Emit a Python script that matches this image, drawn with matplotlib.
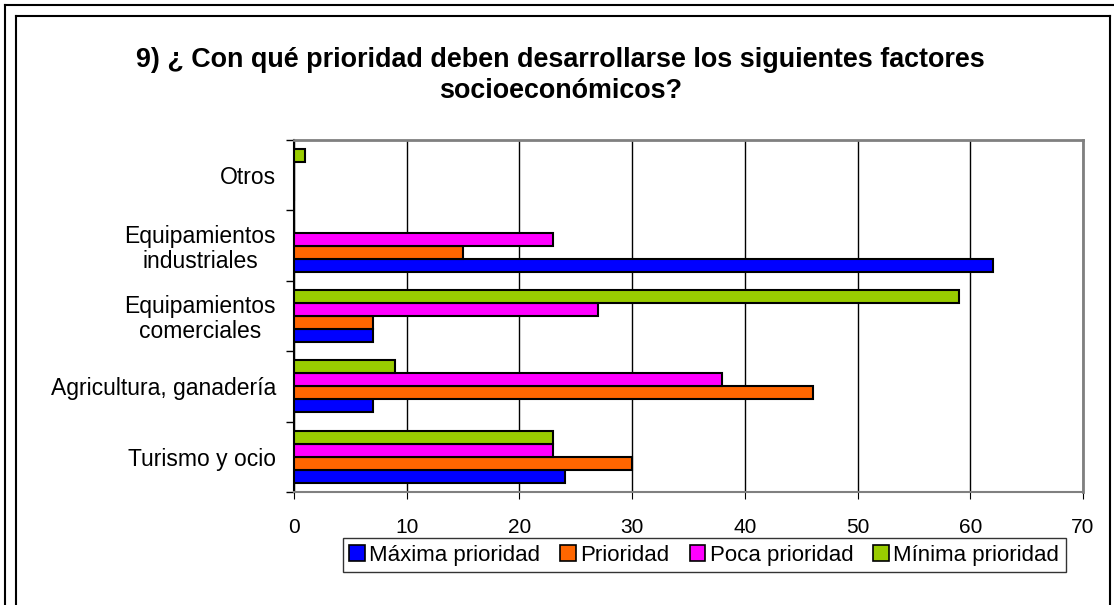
import numpy as np
import matplotlib.pyplot as plt
from matplotlib.lines import Line2D

plt.rcParams['font.family'] = ['Liberation Sans', 'DejaVu Sans']

categorias = ['Turismo y ocio', 'Agricultura, ganadería', 'Equipamientos\ncomerciales',
              'Equipamientos\nindustriales', 'Otros']
series = ['Máxima prioridad', 'Prioridad', 'Poca prioridad', 'Mínima prioridad']
colores = ['#0000FF', '#FF6600', '#FF00FF', '#99CC00']

maxima = [24, 7, 7, 62, 0]
prioridad = [30, 46, 7, 15, 0]
poca = [23, 38, 27, 23, 0]
minima = [23, 9, 59, 0, 1]

valores = [maxima, prioridad, poca, minima]

fig = plt.figure(figsize=(11.14, 6.05), dpi=100)
ax = fig.add_axes([0.2639, 0.1868, 0.7083, 0.5818])

y = np.arange(len(categorias))
h = 0.185
for i, (vals, col, lab) in enumerate(zip(valores, colores, series)):
    ax.barh(y + (i - 1.5) * h, vals, height=h, color=col, edgecolor='black',
            linewidth=1.5, label=lab, zorder=3)

ax.set_xlim(0, 70)
ax.set_ylim(-0.5, len(categorias) - 0.5)
ax.set_xticks(range(0, 71, 10))
ax.set_yticks(y)
ax.set_yticklabels(categorias, fontsize=16.5, ha='right', multialignment='center',
                   linespacing=1.1)
ax.set_yticks(np.arange(-0.5, len(categorias), 1), minor=True)
ax.tick_params(axis='y', which='major', length=0, pad=13)
ax.tick_params(axis='y', which='minor', length=6, width=1)
ax.tick_params(axis='x', labelsize=15, length=5, pad=14)
ax.grid(axis='x', color='black', linewidth=1, zorder=0)

for s in ['top', 'right']:
    ax.spines[s].set_color('#808080')
    ax.spines[s].set_linewidth(2)
ax.spines['left'].set_linewidth(1.5)
ax.spines['bottom'].set_color('#808080')
ax.spines['bottom'].set_linewidth(1.5)

fig.text(0.503, 0.876, '9) ¿ Con qué prioridad deben desarrollarse los siguientes factores\nsocioeconómicos?',
         ha='center', va='center', fontsize=19.4, fontweight='bold', linespacing=1.25)

leg = ax.legend(loc='upper center', bbox_to_anchor=(0.520, -0.131), ncol=4, fontsize=16,
                frameon=True, fancybox=False, edgecolor='black', handlelength=0.7,
                handleheight=0.7, handletextpad=0.2, columnspacing=0.9, borderpad=0.3,
                borderaxespad=0)
leg.get_frame().set_linewidth(1)
for p in leg.get_patches():
    p.set_linewidth(1.2)

# marcos exteriores
W, H = 1114, 605
def linea(x0, y0, x1, y1, lw=1.5):
    fig.add_artist(Line2D([x0 / W, x1 / W], [1 - y0 / H, 1 - y1 / H], color='black', linewidth=lw))

linea(5, 5, 1114, 5)
linea(5, 5, 5, 605)
linea(16, 16, 1110, 16)
linea(16, 16, 16, 605)
linea(1110, 16, 1110, 605)

fig.savefig('out.png', dpi=100)
